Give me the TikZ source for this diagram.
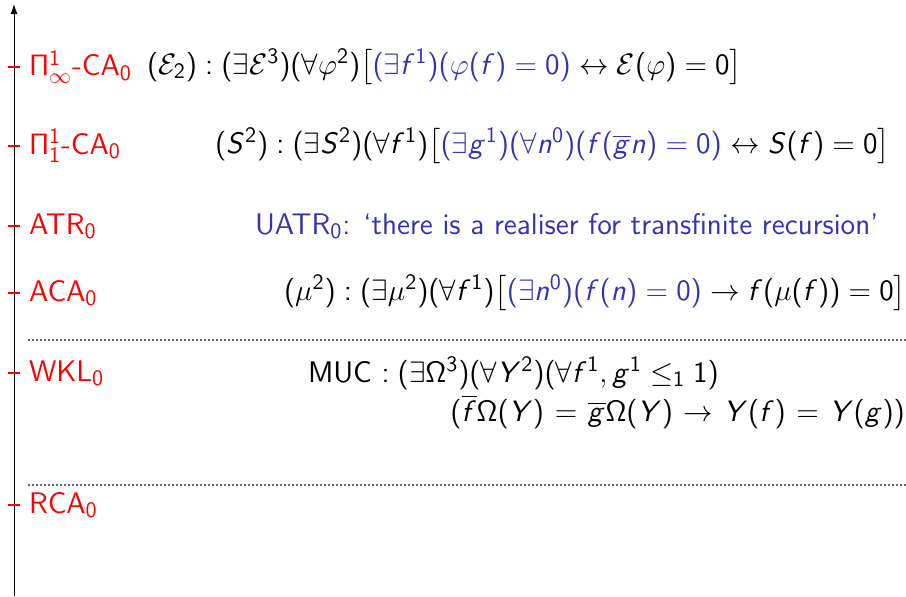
\RequirePackage{fix-cm}
\documentclass[tikz,border=0pt]{standalone}
\usepackage{amsmath,amssymb}
\usetikzlibrary{arrows.meta}
\renewcommand{\familydefault}{\sfdefault}
\SetSymbolFont{operators}{normal}{OT1}{cmss}{m}{n}
\DeclareSymbolFont{sflets}{OT1}{cmss}{m}{sl}
\DeclareMathSymbol{f}{\mathalpha}{sflets}{`f}
\DeclareMathSymbol{g}{\mathalpha}{sflets}{`g}
\DeclareMathSymbol{n}{\mathalpha}{sflets}{`n}
\DeclareMathSymbol{S}{\mathalpha}{sflets}{`S}
\DeclareMathSymbol{Y}{\mathalpha}{sflets}{`Y}
\DeclareMathSizes{14.9}{14.75}{11}{8.3}
\definecolor{struct}{RGB}{51,51,178}
\begin{document}
\begin{tikzpicture}[x=0.5pt,y=-0.5pt,
  every node/.style={inner sep=0pt,outer sep=0pt,font=\fontsize{14.9}{17}\selectfont},
  syslabel/.style={anchor=west,text=red},
  formula/.style={anchor=west},
  tick/.style={red,line width=0.6pt},
  sep/.style={gray!80!black,line width=0.55pt,dash pattern=on 0.9pt off 1.1pt}]
\useasboundingbox (0,0) rectangle (906,596);
\coordinate (bot) at (14,596);
\coordinate (top) at (14,4);
\draw[-{Latex[length=5pt,width=3.5pt]},line width=0.5pt] (bot) -- (top);
% ticks
\foreach \n/\y in {t1/67,t2/146,t3/226,t4/293,t5/373,t6/505}{
  \coordinate (\n a) at (8,\y);
  \coordinate (\n b) at (20,\y);
  \draw[tick] (\n a) -- (\n b);
}
\node[syslabel] (pinf) at (29,67) {$\Pi^1_\infty$-CA$_0$};
\node[syslabel] (pone) at (29,146) {$\Pi^1_1$-CA$_0$};
\node[syslabel] (atr) at (29,226) {ATR$_0$};
\node[syslabel] (aca) at (29,293) {ACA$_0$};
\node[syslabel] (wkl) at (29,373) {WKL$_0$};
\node[syslabel] (rca) at (29,505) {RCA$_0$};
% formulas
\node[formula] (e2) at (147,67) {$(\mathcal{E}_2) : (\exists \mathcal{E}^3)(\forall \varphi^2)\big[\textcolor{struct}{(\exists f^1)(\varphi(f)=0)} \leftrightarrow \mathcal{E}(\varphi)=0\big]$};
\node[formula] (s2) at (215,146) {$(S^2) : (\exists S^2)(\forall f^1)\big[\textcolor{struct}{(\exists g^1)(\forall n^0)(f(\overline{g}n)=0)} \leftrightarrow S(f)=0\big]$};
\node[formula,text=struct] (uatr) at (255,226) {UATR$_0$: ‘there is a realiser for transfinite recursion’};
\node[formula] (mu2) at (284,293) {$(\mu^2) : (\exists \mu^2)(\forall f^1)\big[\textcolor{struct}{(\exists n^0)(f(n)=0)} \rightarrow f(\mu(f))=0\big]$};
\node[anchor=base west] (muc1) at (308,382) {MUC $: (\exists \Omega^3)(\forall Y^2)(\forall f^1, g^1 \le_1 1)$};
\node[anchor=base east] (muc2) at (905,421) {\thickmuskip=6.5mu$(\overline{f}\Omega(Y) = \overline{g}\Omega(Y) \rightarrow Y(f) = Y(g))$};
% separators
\coordinate (s1a) at (28,340); \coordinate (s1b) at (906,340);
\coordinate (s2a) at (28,485); \coordinate (s2b) at (906,485);
\draw[sep] (s1a) -- (s1b);
\draw[sep] (s2a) -- (s2b);
\end{tikzpicture}
\end{document}
